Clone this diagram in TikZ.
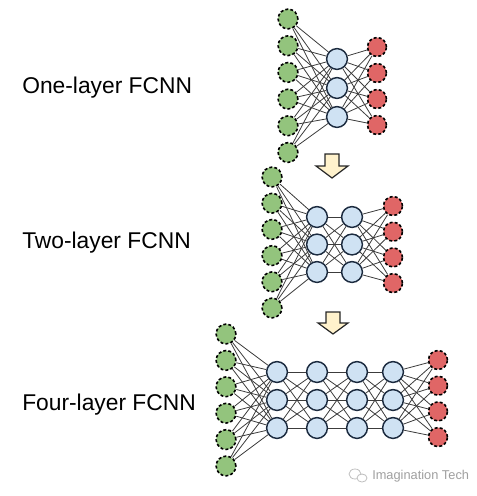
\documentclass[tikz,border=0pt]{standalone}
\usepackage{fontspec}
\setmainfont{Liberation Sans}
\definecolor{ingreen}{HTML}{93C47D}
\definecolor{outred}{HTML}{E06666}
\definecolor{hidblue}{HTML}{CFE2F3}
\definecolor{hidline}{HTML}{1C2B3F}
\definecolor{arrowfill}{HTML}{FFF2CC}
\definecolor{edgegray}{HTML}{3C3C3C}
\tikzset{
  innode/.style={circle,draw=black,fill=ingreen,line width=1.2pt,
    dash pattern=on 2.2pt off 1.6pt,minimum size=14.8pt,inner sep=0pt},
  outnode/.style={innode,fill=outred,minimum size=14.2pt},
  hidnode/.style={circle,draw=hidline,fill=hidblue,line width=1.1pt,
    minimum size=15.6pt,inner sep=0pt},
  edge/.style={edgegray,line width=0.6pt},
  netlabel/.style={anchor=west,inner sep=0pt,font=\fontsize{17.1}{20}\selectfont},
  downarrow/.style={draw=black!85,fill=arrowfill,line width=0.9pt,line join=miter}
}
\begin{document}
\begin{tikzpicture}[x=0.75pt,y=-0.75pt]
  \useasboundingbox (0,0) rectangle (477,496);
  % one-layer
  \node[netlabel] (lab1) at (22,88) {One-layer FCNN};
  \foreach \i in {1,...,6} \node[innode] (a-in-\i) at (288,{19+26.7*(\i-1)}) {};
  \foreach \j in {1,2,3} \node[hidnode] (a-h1-\j) at (337,{59+29*(\j-1)}) {};
  \foreach \k in {1,...,4} \node[outnode] (a-out-\k) at (377,{47+26*(\k-1)}) {};
  \foreach \i in {1,...,6} \foreach \j in {1,2,3} \draw[edge] (a-in-\i) -- (a-h1-\j);
  \foreach \j in {1,2,3} \foreach \k in {1,...,4} \draw[edge] (a-h1-\j) -- (a-out-\k);
  % arrow
  \coordinate (arr1) at (332,154);
  \draw[downarrow] (arr1) ++(-7,0) -- ++(14,0) -- ++(0,12) -- ++(9,0)
    -- ++(-16,12) -- ++(-16,-12) -- ++(9,0) -- cycle;
  % two-layer
  \node[netlabel] (lab2) at (22,243) {Two-layer FCNN};
  \foreach \i in {1,...,6} \node[innode] (b-in-\i) at (272,{177+26.2*(\i-1)}) {};
  \foreach \x [count=\l] in {317,352}
    \foreach \j in {1,2,3} \node[hidnode] (b-h\l-\j) at (\x,{217+27.5*(\j-1)}) {};
  \foreach \k in {1,...,4} \node[outnode] (b-out-\k) at (393,{206+25.7*(\k-1)}) {};
  \foreach \i in {1,...,6} \foreach \j in {1,2,3} \draw[edge] (b-in-\i) -- (b-h1-\j);
  \foreach \i in {1,2,3} \foreach \j in {1,2,3} \draw[edge] (b-h1-\i) -- (b-h2-\j);
  \foreach \j in {1,2,3} \foreach \k in {1,...,4} \draw[edge] (b-h2-\j) -- (b-out-\k);
  % arrow
  \coordinate (arr2) at (333,312);
  \draw[downarrow] (arr2) ++(-7,0) -- ++(14,0) -- ++(0,11) -- ++(8,0)
    -- ++(-15,11) -- ++(-15,-11) -- ++(8,0) -- cycle;
  % four-layer
  \node[netlabel] (lab3) at (22,405) {Four-layer FCNN};
  \foreach \i in {1,...,6} \node[innode] (c-in-\i) at (226,{334+26.4*(\i-1)}) {};
  \foreach \x [count=\l] in {277,317,357,393}
    \foreach \j in {1,2,3} \node[hidnode] (c-h\l-\j) at (\x,{372+28*(\j-1)}) {};
  \foreach \k in {1,...,4} \node[outnode] (c-out-\k) at (438,{360+25.7*(\k-1)}) {};
  \foreach \i in {1,...,6} \foreach \j in {1,2,3} \draw[edge] (c-in-\i) -- (c-h1-\j);
  \foreach \l/\m in {1/2,2/3,3/4}
    \foreach \i in {1,2,3} \foreach \j in {1,2,3} \draw[edge] (c-h\l-\i) -- (c-h\m-\j);
  \foreach \j in {1,2,3} \foreach \k in {1,...,4} \draw[edge] (c-h4-\j) -- (c-out-\k);
  % watermark
  \draw[gray!50,line width=0.6pt] (355,474) ellipse[x radius=6,y radius=5];
  \draw[gray!50,line width=0.6pt,fill=white] (362,478) ellipse[x radius=5,y radius=4];
  \node[anchor=west,inner sep=0pt,text=gray!75,font=\fontsize{9.6}{11}\selectfont] (mark) at (372,476) {Imagination Tech};
\end{tikzpicture}
\end{document}
